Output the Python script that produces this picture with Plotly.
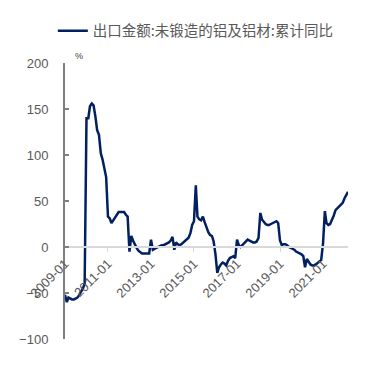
import pandas as pd
import plotly.graph_objects as go

# monthly dates 2009-01 .. 2022-03
start_month = "2009-01-01"
n_months = 159
dates = pd.date_range(start_month, periods=n_months, freq="MS")

series_name = "出口金额:未锻造的铝及铝材:累计同比"
yoy = [
    -52, -60, -55, -56, -57, -57, -56, -55, -52, -49, -45, -40,   # 2009
    140, 140, 153, 156, 154, 142, 127, 122, 102, 95, 84, 76,      # 2010
    33, 31, 26, 29, 33, 36, 38, 38, 38, 38, 35, 33,               # 2011
    -5, 12, 7, 2, -1, -4, -6, -7, -7, -7, -7, -7,                 # 2012
    8, -3, -2, -1, 0, 1, 2, 2, 3, 4, 5, 7,                        # 2013
    11, -3, 5, 3, 2, 3, 5, 7, 9, 10, 15, 24,                      # 2014
    28, 67, 33, 30, 29, 33, 27, 21, 16, 13, 12, 6,                # 2015
    -8, -28, -22, -19, -17, -18, -20, -15, -12, -11, -10, -12,    # 2016
    8, 2, 0, 2, 4, 6, 8, 7, 6, 5, 5, 6,                           # 2017
    10, 37, 30, 27, 25, 24, 24, 25, 26, 27, 28, 26,               # 2018
    7, 2, 3, 3, 2, 0, -1, -2, -3, -5, -6, -7,                     # 2019
    -8, -10, -22, -13, -16, -19, -20, -20, -19, -17, -16, -14,    # 2020
    4, 39, 26, 24, 25, 29, 34, 40, 42, 43, 45, 48,                # 2021
    53, 57, 60,                                                   # 2022
]

label_dates = ["2009-01-01", "2011-01-01", "2013-01-01", "2015-01-01",
               "2017-01-01", "2019-01-01", "2021-01-01"]
label_texts = ["2009-01", "2011-01", "2013-01", "2015-01",
               "2017-01", "2019-01", "2021-01"]
mark_dates = ["2011-01-01", "2015-01-01", "2019-01-01"]
y_ticks = [-100, -50, 0, 50, 100, 150, 200]
y_unit = "%"

fig = go.Figure()
fig.add_trace(go.Scatter(
    x=dates, y=yoy, mode="lines", name=series_name,
    line=dict(color="#002060", width=2.5),
))
# invisible trace to bind the tick-mark axis
fig.add_trace(go.Scatter(x=[dates[0], dates[-1]], y=[0, 0], mode="lines",
                         line=dict(width=0), xaxis="x2", showlegend=False,
                         hoverinfo="skip"))

x_range = [dates[0], dates[-1]]
fig.update_layout(
    width=359, height=369,
    margin=dict(l=57, r=19, t=55, b=38, autoexpand=False),
    paper_bgcolor="white", plot_bgcolor="white",
    font=dict(family="Liberation Sans, Arial, sans-serif", size=13, color="#595959"),
    showlegend=True,
    legend=dict(orientation="h", x=-0.043, y=1.175, xanchor="left", yanchor="top",
                font=dict(family="Noto Sans CJK SC", size=14.5, color="#595959"),
                bgcolor="rgba(0,0,0,0)", itemwidth=30),
    xaxis=dict(
        type="date", range=x_range,
        anchor="free", position=1/3, automargin=False,
        showline=True, linecolor="#d9d9d9", linewidth=2,
        showgrid=False, zeroline=False,
        tickmode="array", tickvals=label_dates, ticktext=label_texts,
        tickangle=-45, ticks="", ticklen=0, ticklabelstandoff=3,
        tickfont=dict(size=13, color="#595959"),
    ),
    xaxis2=dict(
        type="date", range=x_range, overlaying="x",
        anchor="free", position=1/3, automargin=False,
        showline=False, showgrid=False, zeroline=False,
        tickmode="array", tickvals=mark_dates, ticktext=["", "", ""],
        ticks="outside", ticklen=4, tickcolor="#d9d9d9", tickwidth=1,
        showticklabels=True,
    ),
    yaxis=dict(
        range=[-100, 200], tickvals=y_ticks, automargin=False,
        showline=True, linecolor="#7f7f7f", linewidth=2,
        ticks="inside", ticklen=4, tickcolor="#7f7f7f", tickwidth=1.5,
        showgrid=False, zeroline=False,
        ticklabelstandoff=12,
        tickfont=dict(size=13, color="#595959"),
    ),
    annotations=[dict(
        text=y_unit, xref="paper", yref="paper", x=0.03, y=1.0,
        xanchor="left", yanchor="bottom", showarrow=False,
        font=dict(size=9, color="#404040"),
    )],
)

fig.write_html("out.html")
